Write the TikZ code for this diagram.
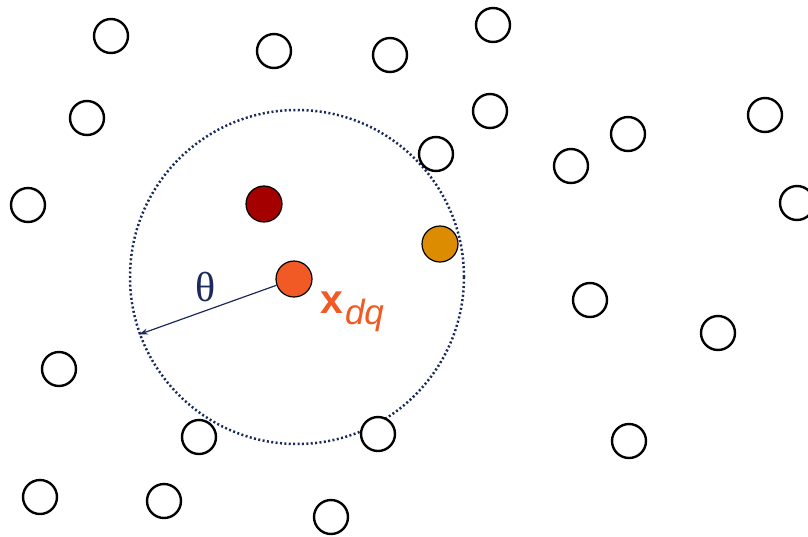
\documentclass[tikz,border=0pt]{standalone}
\usepackage{fontspec}
\setmainfont{Liberation Serif}
\newfontfamily\arialfont{Liberation Sans}
\usetikzlibrary{arrows.meta}
\definecolor{navy}{HTML}{1B2A5C}
\definecolor{darkred}{HTML}{A50000}
\definecolor{gold}{HTML}{DB8C00}
\definecolor{qorange}{HTML}{F15A24}
\tikzset{
  pt/.style={circle, draw=black, line width=2.4pt, fill=white, minimum size=34pt, inner sep=0pt},
  cpt/.style={circle, draw=black, line width=1.2pt, minimum size=36pt, inner sep=0pt},
  ring/.style={circle, draw=navy, line width=2.5pt, dash pattern=on 2pt off 2.4pt, minimum size=334pt, inner sep=0pt},
}
\begin{document}
\begin{tikzpicture}[x=1pt,y=-1pt]
\useasboundingbox (0,0) rectangle (808,536);
\node[ring] (big) at (297,277) {};
\node[pt] (p1) at (111,36) {};
\node[pt] (p2) at (274,51) {};
\node[pt] (p3) at (390,55) {};
\node[pt] (p4) at (493,25) {};
\node[pt] (p5) at (87,118) {};
\node[pt] (p6) at (490,111) {};
\node[pt] (p7) at (436,154) {};
\node[pt] (p8) at (628,134) {};
\node[pt] (p9) at (571,166) {};
\node[pt] (p10) at (765,115) {};
\node[pt] (p11) at (28,205) {};
\node[pt] (p12) at (797,203) {};
\node[pt] (p13) at (590,300) {};
\node[pt] (p14) at (718,333) {};
\node[pt] (p15) at (59,369) {};
\node[pt] (p16) at (199,437) {};
\node[pt] (p17) at (378,434) {};
\node[pt] (p18) at (629,441) {};
\node[pt] (p19) at (40,497) {};
\node[pt] (p20) at (164,501) {};
\node[pt] (p21) at (331,517) {};
\node[cpt, fill=darkred] (r) at (264,204) {};
\node[cpt, fill=gold] (g) at (440,244) {};
\node[cpt, fill=qorange] (q) at (294,279) {};
\coordinate (tip) at (big.200);
\draw[navy, line width=1.2pt, -{Stealth[length=9pt,width=6pt]}] (q) -- (tip);
\node[text=navy, font=\fontsize{42}{44}\selectfont] (th) at (206,287) {θ};
\node[text=qorange, font=\arialfont\fontsize{41}{43}\selectfont, anchor=base west, inner sep=0pt] (lbl) at (320,313) {\textbf{x}\kern2pt\raisebox{-11pt}{\fontsize{35}{37}\selectfont\itshape dq}};
\end{tikzpicture}
\end{document}
